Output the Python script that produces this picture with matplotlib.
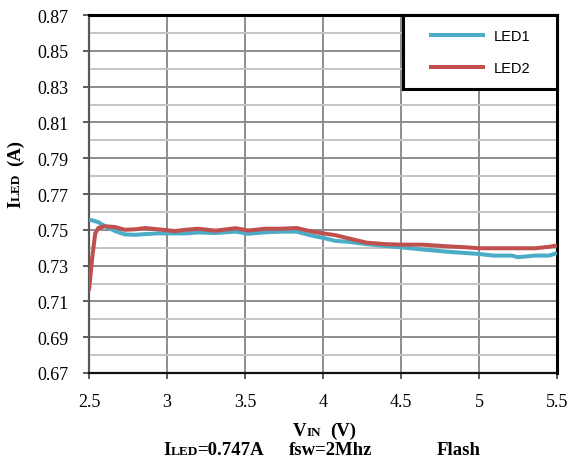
import matplotlib
matplotlib.use('Agg')
import matplotlib.pyplot as plt
import numpy as np
from matplotlib.patches import Rectangle
from matplotlib.ticker import FixedLocator, MultipleLocator, FormatStrFormatter

# Input voltage sweep (V) and measured LED currents (A)
vin = [2.50, 2.52, 2.54, 2.56, 2.60, 2.67, 2.73, 2.80, 2.86, 2.94,
       3.05, 3.12, 3.20, 3.31, 3.44, 3.52, 3.63, 3.73, 3.83, 3.93,
       4.00, 4.08, 4.15, 4.28, 4.40, 4.50, 4.64, 4.79, 4.92, 5.00,
       5.09, 5.21, 5.25, 5.36, 5.45, 5.50]
led1 = [0.7555, 0.7553, 0.7548, 0.7542, 0.7522, 0.7492, 0.7474, 0.7472, 0.7476, 0.7480,
        0.7480, 0.7480, 0.7485, 0.7482, 0.7490, 0.7478, 0.7486, 0.7490, 0.7490, 0.7467,
        0.7455, 0.7438, 0.7434, 0.7420, 0.7410, 0.7402, 0.7390, 0.7378, 0.7370, 0.7365,
        0.7356, 0.7356, 0.7347, 0.7356, 0.7356, 0.7370]
led2 = [0.7160, 0.7340, 0.7480, 0.7510, 0.7520, 0.7515, 0.7500, 0.7503, 0.7510, 0.7503,
        0.7493, 0.7500, 0.7506, 0.7495, 0.7509, 0.7496, 0.7506, 0.7506, 0.7510, 0.7490,
        0.7480, 0.7470, 0.7455, 0.7428, 0.7420, 0.7417, 0.7417, 0.7408, 0.7402, 0.7397,
        0.7397, 0.7397, 0.7397, 0.7397, 0.7405, 0.7413]
series_names = ['LED1', 'LED2']
series_colors = ['#4bacc6', '#c0504d']
y_major = [0.67, 0.69, 0.71, 0.73, 0.75, 0.77, 0.79, 0.81, 0.83, 0.85, 0.87]
y_minor = [0.68, 0.70, 0.72, 0.74, 0.76, 0.78, 0.80, 0.82, 0.84, 0.86]

W, H = 571, 460
fig = plt.figure(figsize=(W / 100, H / 100), dpi=100)
ax = fig.add_axes([89 / W, 1 - 374 / H, 468 / W, 358 / H])

ax.plot(vin, led1, color=series_colors[0], lw=2.9, solid_capstyle='butt', zorder=3,
        label=series_names[0])
ax.plot(vin, led2, color=series_colors[1], lw=2.9, solid_capstyle='butt', zorder=3,
        label=series_names[1])

ax.set_xlim(2.5, 5.5)
ax.set_ylim(0.67, 0.87)
ax.xaxis.set_major_locator(MultipleLocator(0.5))
ax.yaxis.set_major_locator(FixedLocator(y_major))
ax.yaxis.set_minor_locator(FixedLocator(y_minor))
ax.xaxis.set_major_formatter(FormatStrFormatter('%g'))
ax.yaxis.set_major_formatter(FormatStrFormatter('%.2f'))

ax.grid(which='major', color='#8c8c8c', lw=1.4, zorder=1)
ax.yaxis.grid(which='minor', color='#c4c4c4', lw=1.4, zorder=1)
ax.set_axisbelow(True)

ax.tick_params(which='major', direction='out', length=4.5, width=1.2, color='#404040',
               labelsize=13, pad=10)
ax.tick_params(axis='y', which='minor', length=0)
for lab in ax.get_xticklabels() + ax.get_yticklabels():
    lab.set_family('Liberation Serif')

ax.spines['top'].set_linewidth(2.2)
ax.spines['right'].set_linewidth(2.2)
ax.spines['bottom'].set_linewidth(1.6)
ax.spines['left'].set_linewidth(1.6)
ax.spines['left'].set_color('#595959')
ax.spines['bottom'].set_color('#111111')
for s in ('top', 'right'):
    ax.spines[s].set_color('black')

# legend box in the upper-right corner
x0 = (403 - 89) / 468
y0 = (374 - 90) / 358
ax.add_patch(Rectangle((x0, y0), 1 - x0, 1 - y0, transform=ax.transAxes,
                       facecolor='white', edgecolor='black', lw=2.2, zorder=5,
                       clip_on=False))
leg = ax.legend(loc='center', bbox_to_anchor=((x0 + 1) / 2, (y0 + 1) / 2),
                frameon=False, handlelength=3.8, handletextpad=0.65,
                labelspacing=1.25, prop={'family': 'Liberation Sans', 'size': 10.5})
leg.set_zorder(6)
for ln in leg.get_lines():
    ln.set_linewidth(2.9)

renderer = fig.canvas.get_renderer()
BOLD = dict(family='Liberation Serif', weight='bold')


def rich(x, y, parts, rotation=0):
    """Draw consecutive text runs of mixed size, starting at pixel (x, y from top)."""
    pos = 0.0
    for s, size, gap in parts:
        pos += gap
        if rotation == 0:
            px, py = x + pos, y
        else:
            px, py = x, y - pos
        t = fig.text(px / W, 1 - py / H, s, size=size, rotation=rotation,
                     rotation_mode='anchor', ha='left', va='baseline', **BOLD)
        bb = t.get_window_extent(renderer)
        pos += bb.height if rotation else bb.width


rich(293, 436, [('V', 13.5, 0), ('IN', 9.5, 0), ('(V)', 13.5, 9)])
rich(163, 455, [('I', 13.5, 0), ('LED', 9.5, 0), ('=0.747A', 13.5, -1)])
rich(289, 455, [('fsw=2Mhz', 13.5, 0)])
rich(437, 455, [('Flash', 13.5, 0)])
rich(20, 208, [('I', 13.5, 0), ('LED', 9.5, 0), ('(A)', 13.5, 7)], rotation=90)

fig.savefig('out.png', dpi=100, facecolor='white')
